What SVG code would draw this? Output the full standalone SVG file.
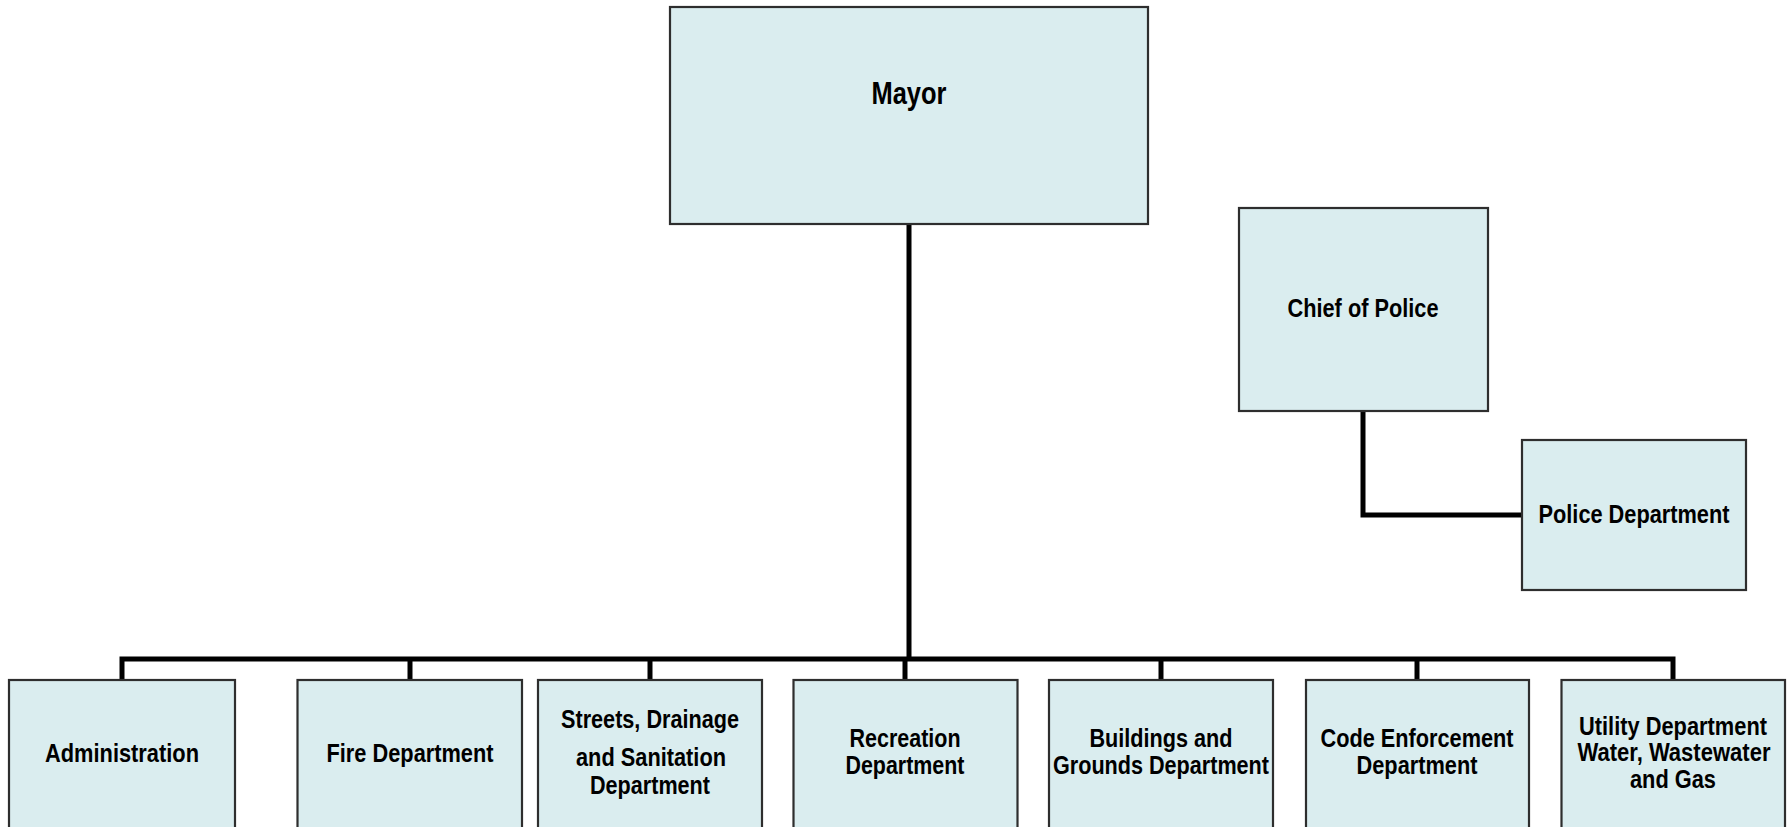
<svg xmlns="http://www.w3.org/2000/svg" width="1788" height="827" viewBox="0 0 1788 827">
  <style>
    .box { fill: #daedef; stroke: #2e2e2e; stroke-width: 2.2; }
    .lbl { font-family: "Liberation Sans Narrow", "Arial Narrow", "Liberation Sans", Arial, sans-serif; font-weight: bold; font-size: 26.5px; fill: #000; text-anchor: middle; }
    .big { font-size: 30.5px; }
    .wire { fill: none; stroke: #000; stroke-width: 5; stroke-linejoin: miter; stroke-linecap: butt; }
  </style>
  <rect width="1788" height="827" fill="#fff"/>

  <!-- reporting lines -->
  <g id="connectors">
    <path class="wire" d="M909,224 V659"/>
    <path class="wire" d="M122,680 V659 H1673 V680"/>
    <path class="wire" d="M410,659 V680"/>
    <path class="wire" d="M650,659 V680"/>
    <path class="wire" d="M905,659 V680"/>
    <path class="wire" d="M1161,659 V680"/>
    <path class="wire" d="M1417,659 V680"/>
    <path class="wire" d="M1363,411 V515 H1522"/>
  </g>

  <g id="mayor">
    <rect class="box" x="670" y="7" width="478" height="217"/>
    <text class="lbl big" x="909" y="104" textLength="75" lengthAdjust="spacingAndGlyphs">Mayor</text>
  </g>

  <g id="chief-of-police">
    <rect class="box" x="1239" y="208" width="249" height="203"/>
    <text class="lbl" x="1363" y="317" textLength="151" lengthAdjust="spacingAndGlyphs">Chief of Police</text>
  </g>

  <g id="police-department">
    <rect class="box" x="1522" y="440" width="224" height="150"/>
    <text class="lbl" x="1634" y="523" textLength="191" lengthAdjust="spacingAndGlyphs">Police Department</text>
  </g>

  <g id="administration">
    <rect class="box" x="9" y="680" width="226" height="170"/>
    <text class="lbl" x="122" y="762" textLength="154" lengthAdjust="spacingAndGlyphs">Administration</text>
  </g>

  <g id="fire-department">
    <rect class="box" x="297.5" y="680" width="224.5" height="170"/>
    <text class="lbl" x="410" y="762" textLength="167" lengthAdjust="spacingAndGlyphs">Fire Department</text>
  </g>

  <g id="streets-drainage-sanitation">
    <rect class="box" x="538" y="680" width="224" height="170"/>
    <text class="lbl" x="650" y="728" textLength="178" lengthAdjust="spacingAndGlyphs">Streets, Drainage</text>
    <text class="lbl" x="651" y="766" textLength="150" lengthAdjust="spacingAndGlyphs">and Sanitation</text>
    <text class="lbl" x="650" y="794" textLength="120" lengthAdjust="spacingAndGlyphs">Department</text>
  </g>

  <g id="recreation-department">
    <rect class="box" x="793.5" y="680" width="224" height="170"/>
    <text class="lbl" x="905" y="747" textLength="111" lengthAdjust="spacingAndGlyphs">Recreation</text>
    <text class="lbl" x="905" y="774" textLength="119" lengthAdjust="spacingAndGlyphs">Department</text>
  </g>

  <g id="buildings-grounds">
    <rect class="box" x="1049" y="680" width="224" height="170"/>
    <text class="lbl" x="1161" y="747" textLength="143" lengthAdjust="spacingAndGlyphs">Buildings and</text>
    <text class="lbl" x="1161" y="774" textLength="216" lengthAdjust="spacingAndGlyphs">Grounds Department</text>
  </g>

  <g id="code-enforcement">
    <rect class="box" x="1306" y="680" width="223" height="170"/>
    <text class="lbl" x="1417" y="747" textLength="193" lengthAdjust="spacingAndGlyphs">Code Enforcement</text>
    <text class="lbl" x="1417" y="774" textLength="121" lengthAdjust="spacingAndGlyphs">Department</text>
  </g>

  <g id="utility-department">
    <rect class="box" x="1561.5" y="680" width="223.5" height="170"/>
    <text class="lbl" x="1673" y="735" textLength="188" lengthAdjust="spacingAndGlyphs">Utility Department</text>
    <text class="lbl" x="1674" y="761" textLength="193" lengthAdjust="spacingAndGlyphs">Water, Wastewater</text>
    <text class="lbl" x="1673" y="788" textLength="86" lengthAdjust="spacingAndGlyphs">and Gas</text>
  </g>
</svg>
